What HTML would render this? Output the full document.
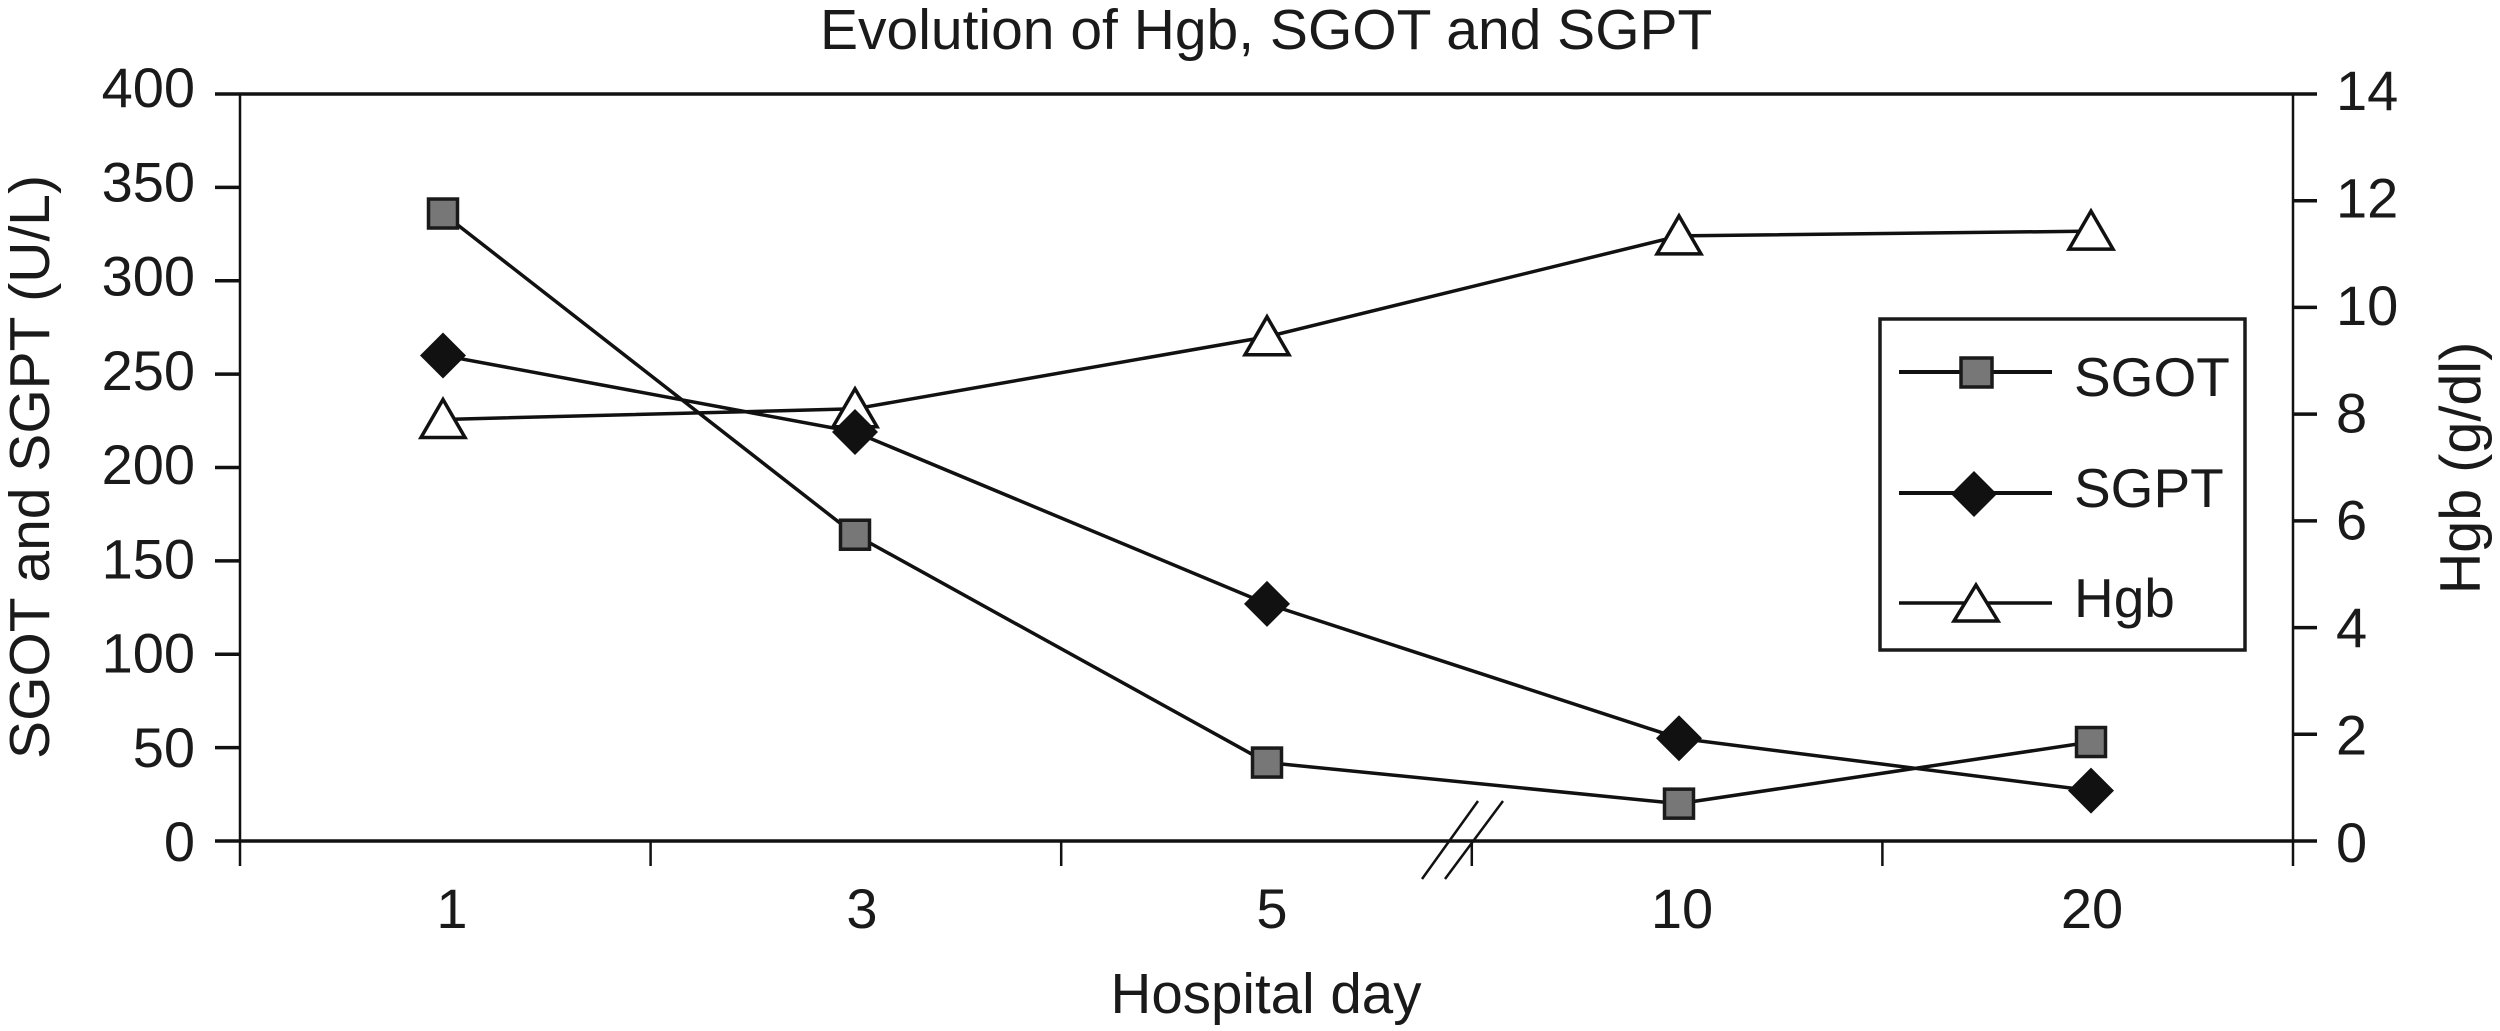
<!DOCTYPE html>
<html lang="en">
<head>
<meta charset="utf-8">
<title>Evolution of Hgb, SGOT and SGPT</title>
<style>
  html, body { margin: 0; padding: 0; background: #fff; }
  svg { display: block; }
  text { font-family: "Liberation Sans", Arial, sans-serif; font-size: 56px; fill: #1a1a1a; }
</style>
</head>
<body>
<svg id="chart" xmlns="http://www.w3.org/2000/svg" width="2500" height="1031" viewBox="0 0 2500 1031">
  <rect x="0" y="0" width="2500" height="1031" fill="#fff"/>
  <text x="820" y="49" style="font-size:57px">Evolution of Hgb, SGOT and SGPT</text>
  <text x="1266" y="1013" text-anchor="middle" style="font-size:56.5px">Hospital day</text>
  <text transform="translate(49 467) rotate(-90)" text-anchor="middle" style="font-size:57px">SGOT and SGPT (U/L)</text>
  <text transform="translate(2480 468) rotate(-90)" text-anchor="middle" style="font-size:57.5px">Hgb (g/dl)</text>

  <g id="axes"></g>
  <g id="series"></g>

  <g stroke="#111" stroke-width="2.5" fill="none">
    <line x1="1422" y1="879" x2="1478" y2="801"/>
    <line x1="1445" y1="879" x2="1503" y2="801"/>
  </g>

  <g>
    <rect x="1880" y="319" width="365" height="331" fill="#fff" stroke="#1a1a1a" stroke-width="3.5"/>
    <g>
      <line x1="1899" y1="372" x2="2052" y2="372" stroke="#111" stroke-width="4"/>
      <rect x="1961" y="358" width="31" height="29" fill="#777" stroke="#1a1a1a" stroke-width="3.5"/>
      <text x="2074" y="396" style="font-size:55px">SGOT</text>
    </g>
    <g>
      <line x1="1899" y1="493" x2="2052" y2="493" stroke="#111" stroke-width="4"/>
      <polygon points="1974,471 1997,494 1974,517 1951,494" fill="#111"/>
      <text x="2074" y="507" style="font-size:55px">SGPT</text>
    </g>
    <g>
      <line x1="1899" y1="603" x2="2052" y2="603" stroke="#111" stroke-width="3.5"/>
      <polygon points="1976,585 1998,621 1954,621" fill="#fff" stroke="#111" stroke-width="3.5"/>
      <text x="2074" y="617" style="font-size:55px">Hgb</text>
    </g>
  </g>
</svg>
<script>
const categories = ["1", "3", "5", "10", "20"];
const sgotValues = [336, 164, 42, 20, 53];
const sgptValues = [260, 219, 127, 55, 27];
const hgbValues = [7.9, 8.1, 9.45, 11.34, 11.43];
const leftTickValues = [0, 50, 100, 150, 200, 250, 300, 350, 400];
const rightTickValues = [0, 2, 4, 6, 8, 10, 12, 14];

const NS = "http://www.w3.org/2000/svg";
const plotLeft = 240, plotRight = 2293, plotTop = 94, plotBottom = 841;
const leftMax = 400, rightMax = 14;
const bandWidth = (plotRight - plotLeft) / categories.length;
const firstPointX = 443, pointStep = 412;
const firstLabelX = 452, labelStep = 410;

function xCenter(i) { return firstPointX + pointStep * i; }
function xLabel(i) { return firstLabelX + labelStep * i; }
function xBoundary(i) { return plotLeft + bandWidth * i; }
function yLeft(v) { return plotBottom - (v / leftMax) * (plotBottom - plotTop); }
function yRight(v) { return plotBottom - (v / rightMax) * (plotBottom - plotTop); }
function leftLabelBaseline(v) { return 861 - (v / leftMax) * 754; }
function rightLabelBaseline(v) { return 862 - (v / rightMax) * 752; }

function make(tag, attrs, parent) {
  const el = document.createElementNS(NS, tag);
  for (const k in attrs) el.setAttribute(k, attrs[k]);
  parent.appendChild(el);
  return el;
}

const axes = document.getElementById("axes");
const seriesLayer = document.getElementById("series");
const lineColor = "#111";

const topLine = make("line", { x1: plotLeft, y1: plotTop, x2: plotRight, y2: plotTop, stroke: lineColor, "stroke-width": 3.5 }, axes);


const bottomLine = make("line", { x1: plotLeft, y1: plotBottom, x2: plotRight, y2: plotBottom, stroke: lineColor, "stroke-width": 3.5 }, axes);


const leftLine = make("line", { x1: plotLeft, y1: plotTop, x2: plotLeft, y2: plotBottom, stroke: lineColor, "stroke-width": 2.5 }, axes);


const rightLine = make("line", { x1: plotRight, y1: plotTop, x2: plotRight, y2: plotBottom, stroke: lineColor, "stroke-width": 2.5 }, axes);



leftTickValues.forEach(function (v) {
  const tick = make("line", { x1: 215, y1: yLeft(v), x2: plotLeft, y2: yLeft(v), stroke: lineColor, "stroke-width": 3.5 }, axes);
  
  
  const label = make("text", { x: 195, y: leftLabelBaseline(v), "text-anchor": "end" }, axes);
  label.textContent = String(v);
  
  
});

rightTickValues.forEach(function (v) {
  const tick = make("line", { x1: plotRight, y1: yRight(v), x2: 2317, y2: yRight(v), stroke: lineColor, "stroke-width": 3.5 }, axes);
  
  
  const label = make("text", { x: 2336, y: rightLabelBaseline(v) }, axes);
  label.textContent = String(v);
  
  
});

for (let i = 0; i <= categories.length; i++) {
  const tick = make("line", { x1: xBoundary(i), y1: plotBottom, x2: xBoundary(i), y2: 866, stroke: lineColor, "stroke-width": 2.5 }, axes);
  
  
}

categories.forEach(function (c, i) {
  const label = make("text", { x: xLabel(i), y: 928, "text-anchor": "middle" }, axes);
  label.textContent = c;
  
  
});

function drawLine(values, yFn, name) {
  const pts = values.map(function (v, i) { return xCenter(i) + "," + yFn(v); }).join(" ");
  const line = make("polyline", { points: pts, fill: "none", stroke: lineColor, "stroke-width": 3.5, "stroke-linejoin": "round" }, seriesLayer);
  
  
}

drawLine(hgbValues, yRight, 'hgb-line');
drawLine(sgotValues, yLeft, 'sgot-line');
drawLine(sgptValues, yLeft, 'sgpt-line');

hgbValues.forEach(function (v, i) {
  const x = xCenter(i), y = yRight(v);
  const p = make("polygon", { points: x + "," + (y - 20) + " " + (x + 22) + "," + (y + 18) + " " + (x - 22) + "," + (y + 18), fill: "#fff", stroke: lineColor, "stroke-width": 3.5 }, seriesLayer);
  
  
});

sgotValues.forEach(function (v, i) {
  const x = xCenter(i), y = yLeft(v);
  const r = make("rect", { x: x - 14.5, y: y - 14.5, width: 29, height: 29, fill: "#777", stroke: "#1a1a1a", "stroke-width": 3.5 }, seriesLayer);
  
  
});

sgptValues.forEach(function (v, i) {
  const x = xCenter(i), y = yLeft(v);
  const p = make("polygon", { points: x + "," + (y - 23) + " " + (x + 23) + "," + y + " " + x + "," + (y + 23) + " " + (x - 23) + "," + y, fill: "#111" }, seriesLayer);
  
  
});
</script>
</body>
</html>
